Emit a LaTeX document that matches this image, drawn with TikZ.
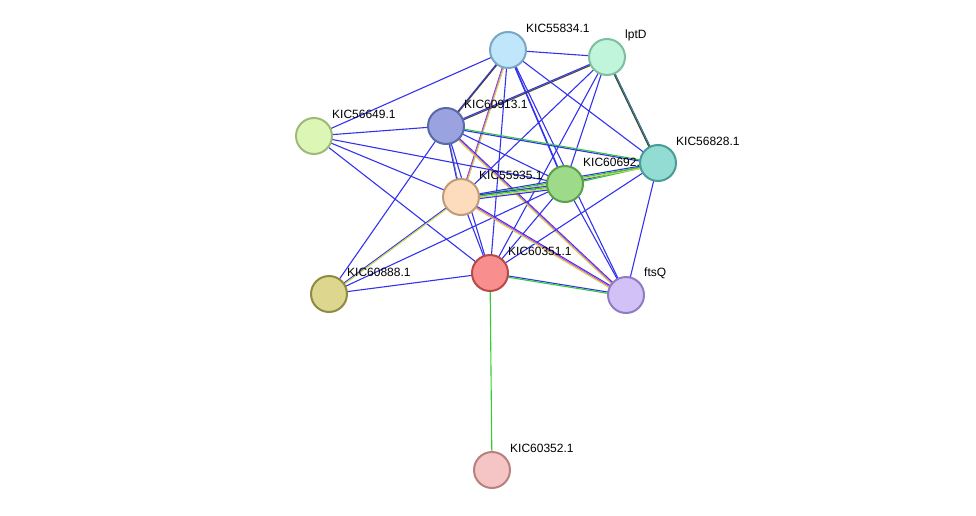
\documentclass[tikz,border=0pt]{standalone}
\usepackage{fontspec}
\setmainfont{Liberation Sans}
\usetikzlibrary{calc}
\begin{document}
\begin{tikzpicture}[x=1pt,y=-1pt,
  edge/.style={line width=1.1pt},
  nd/.style={circle,minimum size=36pt,inner sep=0pt,line width=2pt},
  lb/.style={anchor=west,font=\fontsize{12}{14}\selectfont,inner sep=0pt}]
\definecolor{eb}{HTML}{3333EE}\definecolor{eg}{HTML}{33CC33}
\definecolor{em}{HTML}{E040E0}\definecolor{ey}{HTML}{C8D84C}\definecolor{ek}{HTML}{444444}
\definecolor{fa}{HTML}{BFE6FB}\definecolor{da}{HTML}{7BA6C4}
\definecolor{fb}{HTML}{C0F5DC}\definecolor{db}{HTML}{7FBF9F}
\definecolor{fc}{HTML}{9AA3E0}\definecolor{dc}{HTML}{5A6AA8}
\definecolor{fd}{HTML}{DCF7B5}\definecolor{dd}{HTML}{9FBA78}
\definecolor{fe}{HTML}{93DCD4}\definecolor{de}{HTML}{4A9D94}
\definecolor{ff}{HTML}{9DDB8B}\definecolor{df}{HTML}{5C9E4B}
\definecolor{fg}{HTML}{FDDCBD}\definecolor{dg}{HTML}{C09B76}
\definecolor{fh}{HTML}{F98E8E}\definecolor{dh}{HTML}{B84A4A}
\definecolor{fi}{HTML}{DCD68E}\definecolor{di}{HTML}{8F8B44}
\definecolor{fj}{HTML}{D2C1F7}\definecolor{dj}{HTML}{8F7CC4}
\definecolor{fk}{HTML}{F5C4C4}\definecolor{dk}{HTML}{B98080}
\useasboundingbox (0,0) rectangle (976,516);
\coordinate (a) at (508,50); \coordinate (b) at (607,57); \coordinate (c) at (446,126);
\coordinate (d) at (314,136); \coordinate (e) at (658,163); \coordinate (f) at (565,184);
\coordinate (g) at (461,197); \coordinate (h) at (490,273); \coordinate (i) at (329,294);
\coordinate (j) at (626,295); \coordinate (k) at (492,470);
\newcommand\edg[3]{\foreach \cc [count=\ii] in {#3}{\draw[\cc,edge,transform canvas={shift={(0,{(\ii-1)*1.3})}}] (#1)--(#2);}}
\edg{a}{b}{eb}\edg{a}{d}{eb}\edg{a}{c}{eb,ek}\edg{a}{g}{eb,em,em,ey}\edg{a}{f}{eb,eb}
\edg{a}{e}{eb}\edg{a}{h}{eb}\edg{a}{j}{eb}
\edg{b}{c}{eb,ek}\edg{b}{e}{eb,eg,ek}\edg{b}{f}{eb}\edg{b}{g}{eb}\edg{b}{h}{eb}
\edg{c}{d}{eb}\edg{c}{e}{eg,eb}\edg{c}{f}{eb}\edg{c}{g}{eb,ey,eb}\edg{c}{h}{eb}
\edg{c}{j}{eb,em,ey}\edg{c}{i}{eb}
\edg{d}{g}{eb}\edg{d}{f}{eb}\edg{d}{h}{eb}
\edg{e}{f}{eb,eg}\edg{e}{g}{eb,eg,ey}\edg{e}{j}{eb}\edg{e}{h}{eb}
\edg{f}{g}{eb,eg,ey,eb}\edg{f}{h}{eb}\edg{f}{j}{eb}\edg{f}{i}{eb}
\edg{g}{h}{eb}\edg{g}{j}{eb,em,ey}\edg{g}{i}{eb,ey}
\edg{h}{i}{eb}\edg{h}{j}{eb,eg}\edg{h}{k}{eg}
\foreach \p/\t in {a/KIC55834.1,b/lptD,c/KIC60913.1,d/KIC56649.1,e/KIC56828.1,f/KIC60692.1,g/KIC55935.1,h/KIC60351.1,i/KIC60888.1,j/ftsQ,k/KIC60352.1}
  \node[lb] (l\p) at ($(\p)+(18,-22)$) {\t};
\foreach \p in {a,b,c,d,e,f,g,h,i,j,k}
  \node[nd,fill=f\p,draw=d\p] (n\p) at (\p) {};
\end{tikzpicture}
\end{document}
